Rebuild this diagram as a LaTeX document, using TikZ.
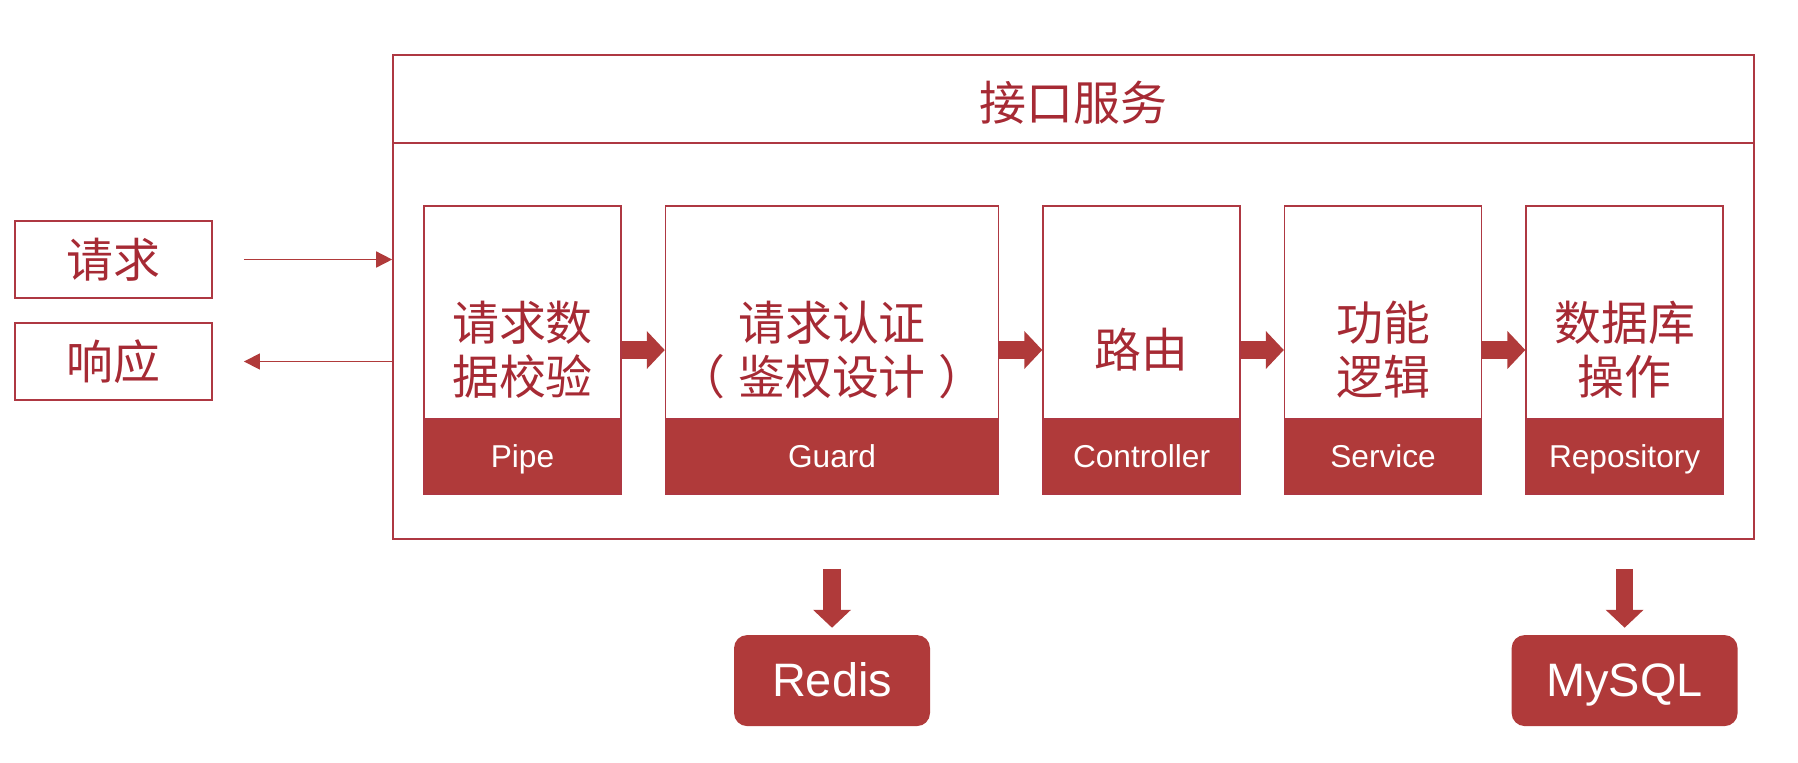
\documentclass[tikz,border=0pt]{standalone}
\usepackage{fontspec}
\setmainfont{Liberation Sans}
\newfontfamily\cjk{Noto Sans CJK SC}
\usetikzlibrary{arrows.meta,positioning}
\definecolor{rotfill}{RGB}{176,58,58}
\definecolor{rottext}{RGB}{166,42,52}
\definecolor{rotrand}{RGB}{174,56,66}
\tikzset{
    %Define style for stage boxes
    boks/.style={
           rectangle,
           draw=rotrand, line width=0.9pt,
           minimum width=#1,
           minimum height=5.76cm,
           inner sep=0pt,
           align=center,
           text=rottext,
           font=\cjk\fontsize{26.7}{30.7}\selectfont},
    boks/.default=3.94cm,
    %Define style for the red bands
    boksband/.style={
           rectangle,
           fill=rotfill, draw=rotrand, line width=0.9pt,
           minimum width=#1,
           minimum height=1.5cm,
           inner sep=0pt,
           text height=12.9pt, text depth=0pt,
           text=white,
           font=\fontsize{18}{20}\selectfont},
    boksband/.default=3.94cm,
    %Define style for frames
    ramme/.style={
           rectangle,
           draw=rotrand, line width=1.1pt,
           inner sep=0pt,
           text=rottext,
           font=\cjk\fontsize{26.7}{30.7}\selectfont},
    %Define style for stores
    lager/.style={
           rectangle,
           rounded corners=0.26cm,
           fill=rotfill,
           minimum height=1.82cm,
           inner sep=0pt,
           text height=18.5pt, text depth=0pt,
           text=white,
           font=\fontsize{26.7}{30}\selectfont},
    % Define arrow styles
    tynnpil/.style={
           -{Triangle[length=0.32cm,width=0.32cm]},
           color=rotfill,
           line width=0.9pt},
    tykkpil/.style={
           -{Triangle[length=0.36cm,width=0.74cm]},
           color=rotfill,
           line width=0.35cm}
}
\begin{document}
\begin{tikzpicture}[x=0.02cm,y=-0.02cm,node distance=0.86cm]
\useasboundingbox (0,0) rectangle (1798,762);

 %nodes
\node[ramme, minimum width=27.22cm, minimum height=9.68cm](dienst) at (1073.5,297){};
\node[text=rottext, font=\cjk\fontsize{26.7}{30}\selectfont](titel) at (1073.5,103){接口服务};
\node[ramme, minimum width=3.94cm, minimum height=1.54cm](req) at (113.5,259.5){请求};
\node[ramme, minimum width=3.94cm, minimum height=1.54cm](resp) at (113.5,361.5){响应};

\node[boks](pipe) at (522.5,350){请求数\\据校验};
\node[boks=6.66cm, right=of pipe](guard){请求认证\\（\hspace{0.27em}鉴权设计\hspace{0.27em}）};
\node[boks, right=of guard](controller){路由};
\node[boks, right=of controller](service){功能\\逻辑};
\node[boks, right=of service](repo){数据库\\操作};

\node[boksband, anchor=south](pipeband) at (pipe.south){Pipe};
\node[boksband=6.66cm, anchor=south](guardband) at (guard.south){Guard};
\node[boksband, anchor=south](controllerband) at (controller.south){Controller};
\node[boksband, anchor=south](serviceband) at (service.south){Service};
\node[boksband, anchor=south](repoband) at (repo.south){Repository};

\node[lager, minimum width=3.92cm, below=2.8cm of guardband](redis){Redis};
\node[lager, minimum width=4.52cm, below=2.8cm of repoband](mysql){MySQL};

\draw[rotrand, line width=1.1pt] ([yshift=-1.78cm]dienst.north west) -- ([yshift=-1.78cm]dienst.north east);

\draw[tynnpil, shorten <=0.62cm] (req) -- (req -| dienst.west);
\draw[tynnpil, shorten >=0.62cm] (resp -| dienst.west) -- (resp);

\draw[tykkpil] (pipe) -- (guard);
\draw[tykkpil] (guard) -- (controller);
\draw[tykkpil] (controller) -- (service);
\draw[tykkpil] (service) -- (repo);

\draw[tykkpil, shorten <=1.48cm, shorten >=0.14cm] (guardband) -- (redis);
\draw[tykkpil, shorten <=1.48cm, shorten >=0.14cm] (repoband) -- (mysql);

\end{tikzpicture}
\end{document}
